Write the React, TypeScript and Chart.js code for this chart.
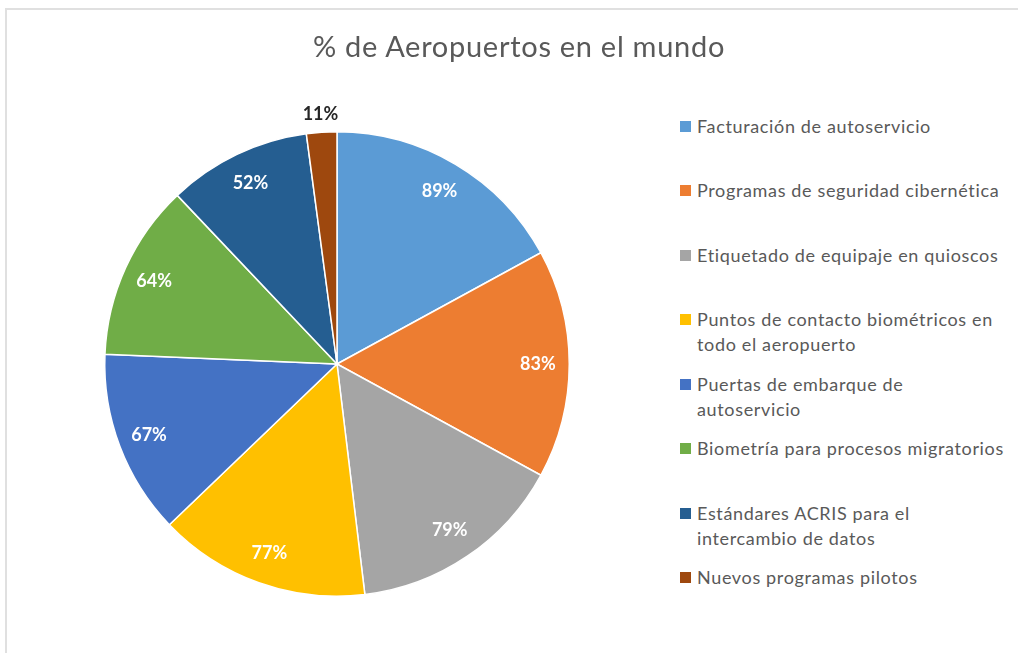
import React, { useEffect, useRef } from "react";
import { Chart, registerables } from "chart.js";

Chart.register(...registerables);

const title = "% de Aeropuertos en el mundo";
const categories: string[][] = [
  ["Facturación de autoservicio"],
  ["Programas de seguridad cibernética"],
  ["Etiquetado de equipaje en quioscos"],
  ["Puntos de contacto biométricos en", "todo el aeropuerto"],
  ["Puertas de embarque de", "autoservicio"],
  ["Biometría para procesos migratorios"],
  ["Estándares ACRIS para el", "intercambio de datos"],
  ["Nuevos programas pilotos"],
];
const values = [89, 83, 79, 77, 67, 64, 52, 11];
const colors = ["#5B9BD5", "#ED7D31", "#A5A5A5", "#FFC000", "#4472C4", "#70AD47", "#255E91", "#9E480E"];

const FONT = "Lato, 'Open Sans', sans-serif";

const labelPlugin = {
  id: "sliceLabels",
  afterDatasetsDraw(chart: any) {
    const ctx = chart.ctx;
    const meta = chart.getDatasetMeta(0);
    ctx.save();
    ctx.font = `bold 18px ${FONT}`;
    ctx.textAlign = "center";
    ctx.textBaseline = "middle";
    meta.data.forEach((arc: any, i: number) => {
      const { x, y, startAngle, endAngle, outerRadius } = arc.getProps(
        ["x", "y", "startAngle", "endAngle", "outerRadius"],
        true
      );
      const text = `${values[i]}%`;
      const mid = (startAngle + endAngle) / 2;
      const rIn = outerRadius * 0.865;
      const w = ctx.measureText(text).width;
      const fits = (endAngle - startAngle) * rIn > w + 6;
      const r = fits ? rIn : outerRadius + 18;
      ctx.fillStyle = fits ? "#ffffff" : "#262626";
      ctx.fillText(text, x + Math.cos(mid) * r, y + Math.sin(mid) * r);
    });
    ctx.restore();
  },
};

export default function App() {
  const ref = useRef<HTMLCanvasElement | null>(null);
  useEffect(() => {
    if (!ref.current) return;
    const chart = new Chart(ref.current, {
      type: "pie",
      data: {
        labels: categories,
        datasets: [
          {
            data: values,
            backgroundColor: colors,
            borderColor: "#ffffff",
            borderWidth: 1.5,
          },
        ],
      },
      options: {
        animation: false,
        responsive: false,
        maintainAspectRatio: false,
        layout: { padding: { left: 104, right: 104, top: 131, bottom: 56 } },
        plugins: {
          legend: { display: false },
          title: { display: false },
          tooltip: { enabled: false },
        },
      },
      plugins: [labelPlugin],
    });
    return () => chart.destroy();
  }, []);

  return (
    <div style={{ position: "absolute", left: 0, top: 0, width: 1018, height: 653, background: "#fff", overflow: "hidden" }}>
      <div
        style={{
          position: "absolute",
          left: 5,
          top: 8,
          width: 1018,
          height: 653,
          borderLeft: "2px solid #e0e0e0",
          borderTop: "2px solid #e0e0e0",
        }}
      />
      <canvas ref={ref} width={674} height={653} style={{ position: "absolute", left: 0, top: 0, width: 674, height: 653 }} />
      <div
        style={{
          position: "absolute",
          left: 0,
          width: 1038,
          top: 26,
          textAlign: "center",
          fontFamily: FONT,
          fontSize: 29,
          letterSpacing: "0.72px",
          lineHeight: "40px",
          color: "#595959",
          whiteSpace: "nowrap",
        }}
      >
        {title}
      </div>
      {categories.map((lines, i) => {
        const cy = 126.5 + i * 64.43;
        return (
          <div key={i}>
            <div
              style={{
                position: "absolute",
                left: 680,
                top: cy - 5.5,
                width: 11,
                height: 11,
                background: colors[i],
              }}
            />
            <div
              style={{
                position: "absolute",
                left: 697,
                top: cy - 12.5,
                fontFamily: FONT,
                fontSize: 18,
                letterSpacing: "0.65px",
                lineHeight: "25px",
                color: "#595959",
                whiteSpace: "nowrap",
              }}
            >
              {lines.map((l, j) => (
                <div key={j}>{l}</div>
              ))}
            </div>
          </div>
        );
      })}
    </div>
  );
}
